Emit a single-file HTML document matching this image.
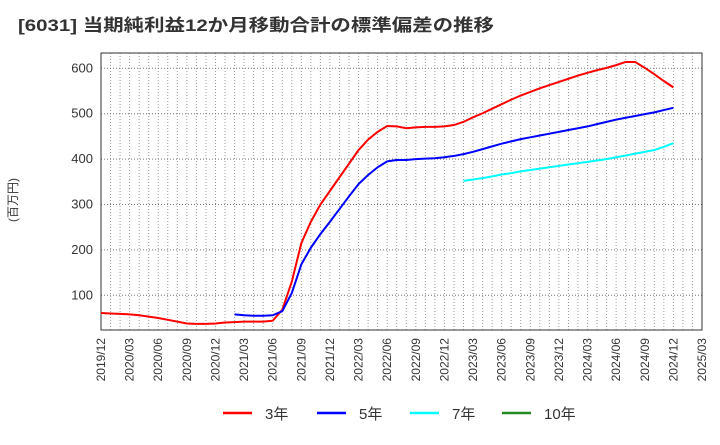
<!DOCTYPE html>
<html><head><meta charset="utf-8"><style>
body{margin:0;background:#fff;}
svg text{font-family:"Liberation Sans","Noto Sans CJK JP",sans-serif;}
</style></head><body>
<svg id="chart" width="720" height="440" xmlns="http://www.w3.org/2000/svg">
<text x="18" y="31" font-size="17" font-weight="bold" fill="#333" textLength="476" lengthAdjust="spacingAndGlyphs">[6031]  当期純利益12か月移動合計の標準偏差の推移</text>
<text transform="translate(17,200) rotate(-90)" text-anchor="middle" font-size="12" fill="#333">(百万円)</text>
<g id="grid"></g><g id="axes"></g><g id="series"></g><g id="legend"></g>
</svg>
<script>
const startYear = 2019, startMonth = 12, totalMonths = 63;
const yTicks = [100,200,300,400,500,600];
const red3 = [61,60,59,58,56,53,50,46,42,38,37,37,38,40,41,42,42,42,44,68,130,215,262,300,330,360,390,420,443,460,473,472,468,470,471,471,472,475,482,492,501,511,521,531,540,548,556,563,570,577,584,590,596,601,607,614,614,601,587,572,558];
const blue5Start = 14;
const blue5 = [58,56,55,55,56,65,105,168,205,235,262,290,318,345,365,382,395,398,398,400,401,402,404,407,411,416,422,428,434,439,444,448,452,456,460,464,468,472,477,482,487,491,495,499,503,508,513];
const cyan7Start = 38;
const cyan7 = [352,355,358,362,366,369,373,376,379,382,385,388,391,394,397,400,404,408,412,416,420,427,435];
const green10 = [];
const L=101,R=702,T=53,B=330;
const xs=i=>L+i*(R-L)/totalMonths;
const ys=v=>295.3-(v-100)*0.454;
const NS="http://www.w3.org/2000/svg";
function mk(tag,attrs,parent){const e=document.createElementNS(NS,tag);for(const k in attrs)e.setAttribute(k,attrs[k]);parent.appendChild(e);return e;}
const grid=document.getElementById('grid'),axes=document.getElementById('axes'),ser=document.getElementById('series'),leg=document.getElementById('legend');
for(let i=1;i<totalMonths;i++){const l=mk('line',{x1:xs(i),x2:xs(i),y1:T,y2:B,stroke:'#999','stroke-dasharray':'1,2','stroke-width':1},grid);

}
yTicks.forEach(v=>{const l=mk('line',{x1:L,x2:R,y1:ys(v),y2:ys(v),stroke:'#777','stroke-dasharray':'1,2','stroke-width':1},grid);


const t=mk('text',{x:L-8,y:ys(v)+4,'text-anchor':'end','font-size':13,fill:'#333'},axes);t.textContent=v;

});
const frame=mk('rect',{x:L,y:T,width:R-L,height:B-T,fill:'none',stroke:'#333','stroke-width':1},axes);


for(let i=0;i<=totalMonths;i+=3){let m=startMonth-1+i;const yr=startYear+Math.floor(m/12);const mo=m%12+1;
const t=mk('text',{transform:`translate(${xs(i)+4},338) rotate(-90)`,'text-anchor':'end','font-size':12,fill:'#333'},axes);
t.textContent=yr+'/'+String(mo).padStart(2,'0');

}
function line(data,start,color,name){if(!data.length)return;const p=mk('polyline',{points:data.map((v,i)=>xs(start+i)+','+ys(v)).join(' '),fill:'none',stroke:color,'stroke-width':2},ser);

}
line(red3,0,'#ff0000','series-3y');
line(blue5,blue5Start,'#0000ff','series-5y');
line(cyan7,cyan7Start,'#00ffff','series-7y');
line(green10,0,'#228b22','series-10y');
[['3年','#ff0000',223],['5年','#0000ff',317],['7年','#00ffff',410],['10年','#228b22',502]].forEach(([lab,c,x])=>{
const g=mk('g',{},leg);


mk('line',{x1:x,x2:x+29,y1:413,y2:413,stroke:c,'stroke-width':2.5},g);
const t=mk('text',{x:x+42,y:419,'font-size':15,fill:'#333'},g);t.textContent=lab;});
</script>
</body></html>
